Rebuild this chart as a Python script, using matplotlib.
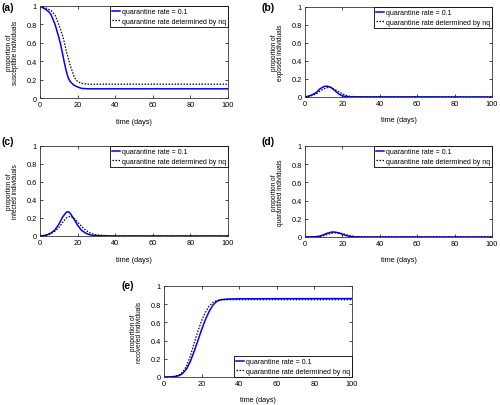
import numpy as np
import matplotlib
matplotlib.use("Agg")
import matplotlib.pyplot as plt

plt.rcParams['font.family'] = ['Liberation Sans', 'DejaVu Sans']

# ---- data ----
# (a) susceptible
tS_b = [0, 2, 4, 5, 6, 8, 10, 11, 12, 13, 14, 15, 16, 18, 20, 22, 25, 40, 100]
S_b = [1.0, 0.975, 0.95, 0.93, 0.9, 0.8, 0.66, 0.58, 0.48, 0.38, 0.29, 0.22, 0.18, 0.14, 0.12, 0.105, 0.1, 0.1, 0.1]
tS_k = [0, 3, 6, 8, 10, 12, 13, 14, 16, 18, 19, 20, 22, 25, 100]
S_k = [1.0, 0.98, 0.95, 0.9, 0.8, 0.68, 0.6, 0.51, 0.36, 0.24, 0.2, 0.18, 0.16, 0.15, 0.15]
# (b) exposed
tE_b = [0, 2, 4, 6, 8, 10, 11, 12, 14, 16, 18, 20, 22, 25, 100]
E_b = [0, 0.01, 0.025, 0.05, 0.09, 0.115, 0.12, 0.12, 0.105, 0.07, 0.035, 0.012, 0.004, 0.001, 0]
tE_k = [0, 2, 4, 6, 8, 10, 12, 13, 14, 16, 18, 20, 22, 24, 27, 30, 100]
E_k = [0, 0.008, 0.018, 0.035, 0.065, 0.09, 0.105, 0.108, 0.105, 0.085, 0.06, 0.035, 0.018, 0.008, 0.003, 0.001, 0]
# (c) infected
tI_b = [0, 2, 4, 6, 8, 10, 12, 14, 15, 16, 18, 20, 22, 24, 26, 28, 30, 35, 40, 100]
I_b = [0, 0.005, 0.015, 0.035, 0.07, 0.13, 0.21, 0.265, 0.27, 0.255, 0.19, 0.12, 0.065, 0.035, 0.017, 0.008, 0.004, 0.001, 0, 0]
tI_k = [0, 2, 4, 6, 8, 10, 12, 14, 16, 18, 20, 22, 24, 26, 28, 30, 35, 40, 100]
I_k = [0, 0.004, 0.012, 0.028, 0.055, 0.095, 0.15, 0.2, 0.22, 0.2, 0.155, 0.11, 0.07, 0.04, 0.022, 0.012, 0.004, 0.001, 0]
# (d) quarantined
tQ_b = [0, 5, 8, 10, 12, 14, 15, 16, 18, 20, 22, 24, 26, 30, 100]
Q_b = [0, 0.002, 0.01, 0.025, 0.042, 0.053, 0.055, 0.054, 0.045, 0.03, 0.016, 0.007, 0.003, 0, 0]
tQ_k = [0, 5, 8, 10, 12, 14, 16, 17, 18, 20, 22, 24, 26, 28, 32, 100]
Q_k = [0, 0.001, 0.006, 0.015, 0.028, 0.04, 0.046, 0.047, 0.045, 0.037, 0.025, 0.014, 0.006, 0.002, 0, 0]
# (e) recovered
tR_b = [0, 4, 6, 8, 10, 12, 14, 16, 18, 20, 22, 24, 26, 28, 30, 33, 36, 40, 100]
R_b = [0, 0.002, 0.006, 0.015, 0.04, 0.09, 0.17, 0.28, 0.4, 0.52, 0.63, 0.72, 0.79, 0.83, 0.848, 0.856, 0.858, 0.86, 0.862]
tR_k = [0, 4, 6, 8, 10, 12, 14, 16, 18, 20, 22, 24, 26, 28, 30, 35, 100]
R_k = [0, 0.002, 0.008, 0.022, 0.055, 0.12, 0.23, 0.37, 0.5, 0.62, 0.71, 0.78, 0.82, 0.84, 0.848, 0.85, 0.85]

legend_labels = ["quarantine rate = 0.1", "quarantine rate determined by nq"]
xticks = [0, 20, 40, 60, 80, 100]
yticks = [0, 0.2, 0.4, 0.6, 0.8, 1]
ytick_labels = ['0', '0.2', '0.4', '0.6', '0.8', '1']

panels = [
    ("(a)", "proportion of\nsusceptible individuals", tS_b, S_b, tS_k, S_k, "upper right"),
    ("(b)", "proportion of\nexposed individuals", tE_b, E_b, tE_k, E_k, "upper right"),
    ("(c)", "proportion of\ninfected individuals", tI_b, I_b, tI_k, I_k, "upper right"),
    ("(d)", "proportion of\nquarantined individuals", tQ_b, Q_b, tQ_k, Q_k, "upper right"),
    ("(e)", "proportion of\nrecovered individuals", tR_b, R_b, tR_k, R_k, "lower right"),
]

W, H = 500, 406
# axes boxes in pixels: left, right, top, bottom
boxes = [
    (40, 228, 7, 99),
    (305, 492, 8, 98),
    (40, 228, 147, 237),
    (305, 492, 147, 238),
    (164, 352, 287, 378),
]
label_pos = [(1, 3), (262, 3), (1, 137), (262, 137), (122, 281)]

fig = plt.figure(figsize=(W / 100, H / 100), dpi=100)

for (lab, ylab, tb, yb, tk, yk, loc), (l, r, t, b), (lx, ly) in zip(panels, boxes, label_pos):
    ax = fig.add_axes([l / W, (H - b) / H, (r - l) / W, (b - t) / H])
    ax.plot(tb, yb, color='#0000ff', lw=1.1, label=legend_labels[0])
    ax.plot(tk, yk, color='black', lw=0.9, ls=(0, (1.2, 1.2)), label=legend_labels[1])
    ax.set_xlim(0, 100)
    ax.set_ylim(0, 1)
    ax.set_xticks(xticks)
    ax.set_yticks(yticks)
    ax.set_yticklabels(ytick_labels)
    ax.tick_params(direction='in', length=2, width=0.5, labelsize=5.3, pad=2.5,
                   top=True, right=True)
    for sp in ax.spines.values():
        sp.set_linewidth(0.6)
        sp.set_color('#333333')
    ax.set_xlabel("time (days)", fontsize=5.2, labelpad=6.5)
    ax.set_ylabel(ylab, fontsize=4.7, labelpad=5, linespacing=0.95)
    leg = ax.legend(loc=loc, fontsize=5, frameon=True, fancybox=False,
                    edgecolor='black', framealpha=1, borderpad=0.3,
                    handlelength=1.2, handletextpad=0.2, labelspacing=0.35,
                    borderaxespad=0.0)
    leg.get_frame().set_linewidth(0.6)
    fig.text(lx / W, 1 - ly / H, lab, fontsize=7.5, fontweight='bold', va='top', ha='left')

fig.savefig("out.png", dpi=100)
